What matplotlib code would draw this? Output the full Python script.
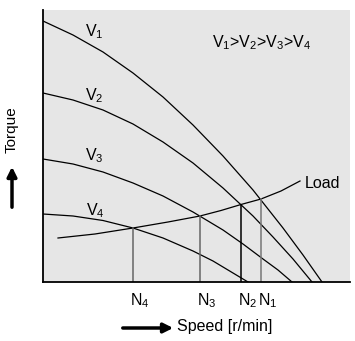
import matplotlib.pyplot as plt
from matplotlib.patches import FancyArrowPatch

plt.rcParams['font.family'] = ['Liberation Sans', 'DejaVu Sans']
plt.rcParams['mathtext.fontset'] = 'custom'
plt.rcParams['mathtext.rm'] = 'Liberation Sans'
plt.rcParams['mathtext.it'] = 'Liberation Sans'

# torque curves for each voltage (speed, torque)
v1_speed = [0, 30, 60, 90, 120, 150, 180, 210, 240, 260, 279]
v1_torque = [261, 247, 230, 209, 185, 157, 126, 92, 54, 27, 0]
v2_speed = [0, 30, 60, 90, 120, 150, 180, 210, 230, 250, 269]
v2_torque = [189, 182, 172, 158, 140, 119, 94, 66, 45, 23, 0]
v3_speed = [0, 30, 60, 90, 120, 150, 180, 200, 220, 235, 249]
v3_torque = [123, 118, 110, 99, 86, 70, 52, 38, 23, 12, 0]
v4_speed = [0, 30, 60, 90, 120, 150, 170, 190, 205]
v4_torque = [68, 66, 61.5, 54, 44, 31, 21, 9, 0]

# load torque curve
load_speed = [15, 52, 90, 125, 157, 178, 198, 218, 238, 257]
load_torque = [44, 48, 54, 60, 66, 71.5, 77.5, 83, 91, 101]

# operating points N4..N1
n_labels = ['N$_4$', 'N$_3$', 'N$_2$', 'N$_1$']
n_speed = [90, 157, 198, 218]
n_torque = [54, 66, 77.5, 83]
n_colors = ['#666666', '#666666', 'black', '#777777']

curve_labels = ['V$_1$', 'V$_2$', 'V$_3$', 'V$_4$']
curve_label_pos = [(51, 250), (51, 186), (51, 126), (52, 71)]

fig = plt.figure(figsize=(3.55, 3.41), dpi=100)
ax = fig.add_axes([43/355, 59/341, 307/355, 272/341])
ax.set_facecolor('#e6e6e6')
ax.set_xlim(0, 307)
ax.set_ylim(0, 272)
ax.set_xticks([])
ax.set_yticks([])
for s in ['top', 'right']:
    ax.spines[s].set_visible(False)
for s in ['left', 'bottom']:
    ax.spines[s].set_linewidth(1.3)

for xs, ys in [(v1_speed, v1_torque), (v2_speed, v2_torque),
               (v3_speed, v3_torque), (v4_speed, v4_torque)]:
    ax.plot(xs, ys, color='black', lw=0.9)
ax.plot(load_speed, load_torque, color='black', lw=0.9)

for x, y, c in zip(n_speed, n_torque, n_colors):
    ax.plot([x, x], [0, y], color=c, lw=1.1)

for lab, (x, y) in zip(curve_labels, curve_label_pos):
    ax.text(x, y, lab, fontsize=11.5, ha='center', va='center')

ax.text(219, 239, 'V$_1$>V$_2$>V$_3$>V$_4$', fontsize=11.5, ha='center', va='center')
ax.text(262, 98, 'Load', fontsize=11.5, ha='left', va='center')

for lab, x in zip(n_labels, n_speed):
    ax.text(x - 3, -19, lab, fontsize=11.5, ha='left', va='center', clip_on=False)

# axis captions with arrows
fig.text(177/355, 1 - 327/341, 'Speed [r/min]', fontsize=11.5, ha='left', va='center')
fig.text(12/355, 1 - 130/341, 'Torque', fontsize=11, rotation=90, ha='center', va='center')
fig.patches.append(FancyArrowPatch(
    (120/355, 1 - 328/341), (176/355, 1 - 328/341), transform=fig.transFigure,
    arrowstyle='-|>', mutation_scale=14, lw=2.5, color='black'))
fig.patches.append(FancyArrowPatch(
    (12/355, 1 - 210/341), (12/355, 1 - 164/341), transform=fig.transFigure,
    arrowstyle='-|>', mutation_scale=14, lw=2.5, color='black'))

fig.savefig('out.png', dpi=100)
